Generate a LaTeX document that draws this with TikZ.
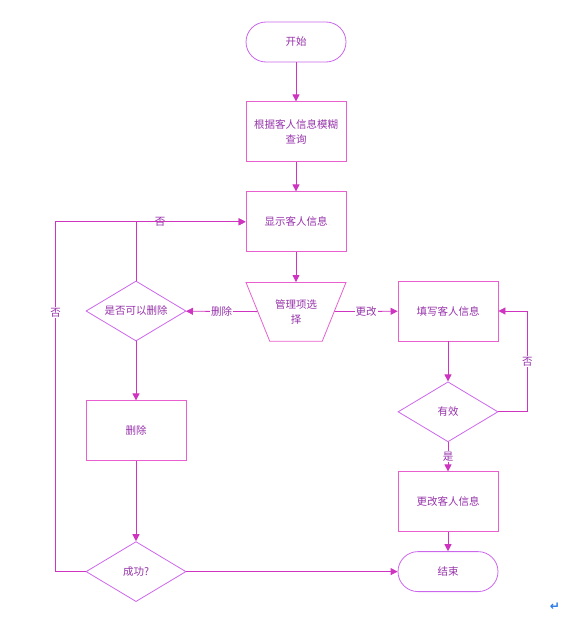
\documentclass[tikz,border=0pt]{standalone}
\usepackage{fontspec}
\setmainfont{Noto Sans CJK SC}
\newfontfamily\symfont{DejaVu Sans}
\usetikzlibrary{positioning,shapes.geometric,arrows.meta}
\definecolor{boxline}{RGB}{232,96,208}
\definecolor{decline}{RGB}{204,102,236}
\definecolor{flowline}{RGB}{206,52,192}
\definecolor{txtcol}{RGB}{150,50,170}
\definecolor{markblue}{RGB}{40,120,230}
\begin{document}
\begin{tikzpicture}[x=1pt, y=-1pt, node distance=30pt,
		font=\fontsize{10.5}{15}\selectfont, text=txtcol,
		>={Triangle[length=7pt,width=7pt]},
		proc/.style={draw=boxline, line width=0.8pt, rectangle, minimum width=100pt, minimum height=60pt, align=center},
		term/.style={draw=decline, line width=0.8pt, rectangle, rounded corners=20pt, minimum width=100pt, minimum height=40pt},
		dec/.style={draw=decline, line width=0.8pt, diamond, aspect=1.67, inner sep=0pt, minimum width=100pt, minimum height=60pt},
		choice/.style={draw=boxline, line width=0.8pt, trapezium, shape border rotate=180, trapezium angle=68, trapezium stretches body, minimum width=100pt, inner ysep=17pt, align=center},
		flow/.style={draw=flowline, line width=0.8pt, ->},
		lbl/.style={fill=white, inner sep=1pt}]
		\useasboundingbox (0,0) rectangle (569,618);
		\node (start) [term] at (296,42) {开始};
		\node (query) [proc, below=39pt of start] {根据客人信息模糊\\查询};
		\node (show) [proc, below of=query, node distance=90pt] {显示客人信息};
		\node (mgmt) [choice, below of=show, node distance=90pt] {管理项选\\择};
		\node (candel) [dec] at (136,311) {是否可以删除};
		\node (del) [proc, below=59pt of candel] {删除};
		\node (succ) [dec, below=80pt of del] {成功?};
		\node (fill) [proc] at (448,311) {填写客人信息};
		\node (valid) [dec, below=40pt of fill] {有效};
		\node (change) [proc, below of=valid, node distance=90pt] {更改客人信息};
		\node (end) [term, below=19pt of change] {结束};
		\node (mark) [text=markblue, font=\symfont\bfseries\fontsize{12}{12}\selectfont] at (555,607) {↵};
		\draw[flow] (start) -- (query);
		\draw[flow] (query) -- (show);
		\draw[flow] (show) -- (mgmt);
		\draw[flow] (mgmt) -- node[lbl] {删除} (candel);
		\draw[flow] (mgmt) -- node[lbl] {更改} (fill);
		\draw[flow] (candel.north) |- node[lbl, pos=0.61] {否} (show.west);
		\draw[flow] (candel) -- (del);
		\draw[flow] (del) -- (succ);
		\draw[flow] (succ.west) -- ++(-30,0) |- node[lbl, pos=0.37] {否} (show.west);
		\draw[flow] (succ.east) -- (end.west);
		\draw[flow] (fill) -- (valid);
		\draw[flow] (valid.east) -- ++(29,0) |- node[lbl, pos=0.25] {否} (fill.east);
		\draw[flow] (valid) -- node[lbl] {是} (change);
		\draw[flow] (change) -- (end);
\end{tikzpicture}
\end{document}
